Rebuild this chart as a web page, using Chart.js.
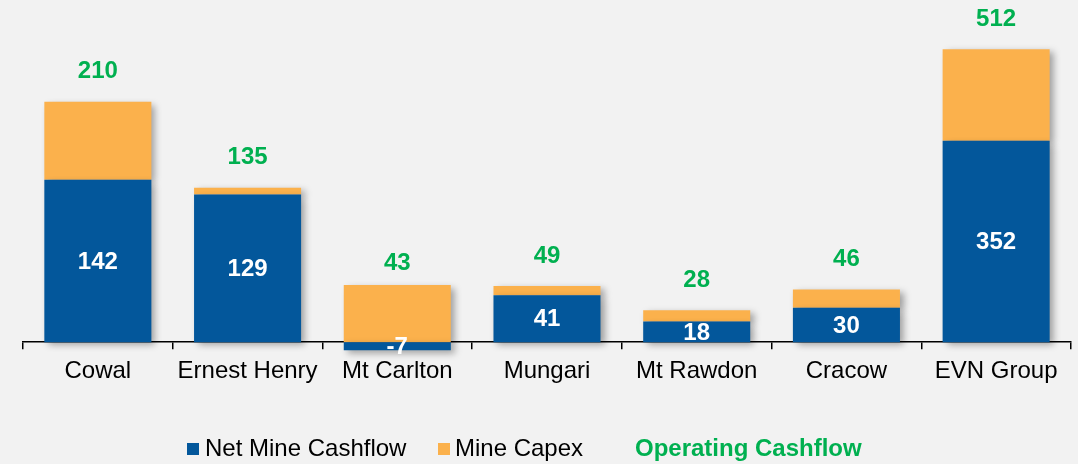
<!DOCTYPE html>
<html>
<head>
<meta charset="utf-8">
<script src="https://cdn.jsdelivr.net/npm/chart.js@4.4.1/dist/chart.umd.min.js"></script>
<style>
  html, body { margin: 0; padding: 0; background: #f2f2f2; }
  #wrap { width: 1078px; height: 464px; position: relative; }
</style>
</head>
<body>
<div id="wrap"><canvas id="chart"></canvas></div>
<script>
// categories and values (A$M)
const mines = ['Cowal', 'Ernest Henry', 'Mt Carlton', 'Mungari', 'Mt Rawdon', 'Cracow', 'EVN Group'];
const netMineCashflow = [142, 129, -7, 41, 18, 30, 352];
const mineCapex = [68, 6, 50, 8, 10, 16, 160];
const operatingCashflow = [210, 135, 43, 49, 28, 46, 512];
// the group bar is drawn on its own axis at half the scale of the mines
const groupIndex = 6;

const blue = '#03579b';
const orange = '#fbb14c';
const green = '#00b050';

const onMines = arr => arr.map((v, i) => i === groupIndex ? null : v);
const onGroup = arr => arr.map((v, i) => i === groupIndex ? v : null);

const barStyle = {
    stack: 'a',
    barPercentage: 0.715,
    categoryPercentage: 1,
    skipNull: true,
    clip: false,
    borderWidth: 0
};

const shadowPlugin = {
    id: 'shadow',
    beforeDatasetsDraw(chart) {
        const ctx = chart.ctx;
        ctx.save();
        ctx.shadowColor = 'rgba(0,0,0,0.35)';
        ctx.shadowBlur = 7;
        ctx.shadowOffsetX = 4;
        ctx.shadowOffsetY = 3;
    },
    afterDatasetsDraw(chart) {
        chart.ctx.restore();
    }
};

const labelPlugin = {
    id: 'labels',
    afterDatasetsDraw(chart) {
        const ctx = chart.ctx;
        ctx.save();
        ctx.font = 'bold 24px "Liberation Sans", Arial, sans-serif';
        ctx.textAlign = 'center';
        ctx.textBaseline = 'middle';
        // white values inside the net cashflow bars
        ctx.fillStyle = '#ffffff';
        [0, 2].forEach(di => {
            chart.getDatasetMeta(di).data.forEach((bar, i) => {
                const v = chart.data.datasets[di].data[i];
                if (v === null) return;
                ctx.fillText(String(v), bar.x, (bar.y + bar.base) / 2 + 1);
            });
        });
        // green totals above the stacks
        ctx.fillStyle = green;
        operatingCashflow.forEach((t, i) => {
            const scale = i === groupIndex ? chart.scales.y2 : chart.scales.y;
            const x = chart.scales.x.getPixelForValue(i);
            ctx.fillText(String(t), x, scale.getPixelForValue(t) - 30);
        });
        ctx.restore();
    }
};

const legendPlugin = {
    id: 'bottomLegend',
    afterDraw(chart) {
        const ctx = chart.ctx;
        ctx.save();
        ctx.textBaseline = 'alphabetic';
        ctx.textAlign = 'left';
        ctx.font = '24px "Liberation Sans", Arial, sans-serif';
        ctx.fillStyle = blue;
        ctx.fillRect(187, 443, 12, 12);
        ctx.fillStyle = '#000000';
        ctx.fillText('Net Mine Cashflow', 205, 456);
        ctx.fillStyle = orange;
        ctx.fillRect(438, 443, 12, 12);
        ctx.fillStyle = '#000000';
        ctx.fillText('Mine Capex', 455, 456);
        ctx.font = 'bold 24px "Liberation Sans", Arial, sans-serif';
        ctx.fillStyle = green;
        ctx.fillText('Operating Cashflow', 635, 456);
        ctx.restore();
    }
};

new Chart(document.getElementById('chart'), {
    type: 'bar',
    data: {
        labels: mines,
        datasets: [
            Object.assign({ label: 'Net Mine Cashflow', data: onMines(netMineCashflow), backgroundColor: blue, yAxisID: 'y' }, barStyle),
            Object.assign({ label: 'Mine Capex', data: onMines(mineCapex), backgroundColor: orange, yAxisID: 'y' }, barStyle),
            Object.assign({ label: 'Net Mine Cashflow', data: onGroup(netMineCashflow), backgroundColor: blue, yAxisID: 'y2' }, barStyle),
            Object.assign({ label: 'Mine Capex', data: onGroup(mineCapex), backgroundColor: orange, yAxisID: 'y2' }, barStyle)
        ]
    },
    options: {
        responsive: true,
        maintainAspectRatio: false,
        animation: false,
        layout: { padding: { top: 0, left: 23, right: 7, bottom: 70 } },
        plugins: {
            legend: { display: false },
            tooltip: { enabled: false }
        },
        scales: {
            x: {
                stacked: true,
                grid: {
                    offset: true,
                    drawOnChartArea: false,
                    drawTicks: true,
                    tickLength: 7,
                    color: '#000000',
                    lineWidth: 1.5
                },
                border: { display: true, color: '#000000', width: 1.5 },
                ticks: {
                    color: '#000000',
                    padding: 8,
                    font: { family: '"Liberation Sans", Arial, sans-serif', size: 24 }
                }
            },
            y: {
                display: false,
                stacked: true,
                min: 0,
                max: 299
            },
            y2: {
                display: false,
                stacked: true,
                min: 0,
                max: 598
            }
        }
    },
    plugins: [shadowPlugin, labelPlugin, legendPlugin]
});
</script>
</body>
</html>
